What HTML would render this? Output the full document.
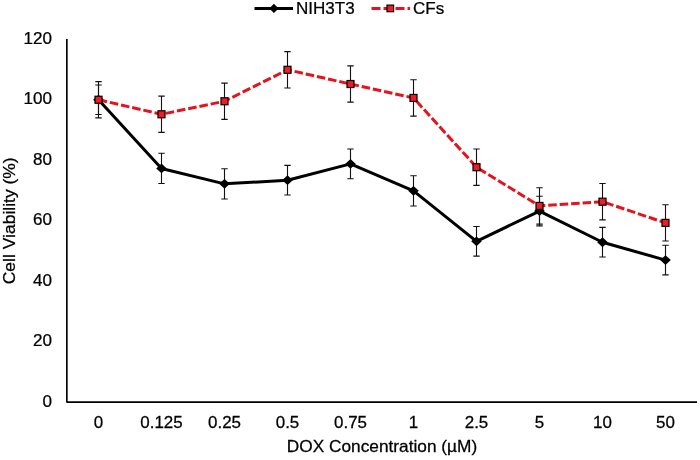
<!DOCTYPE html><html><head><meta charset="utf-8"><style>html,body{margin:0;padding:0;background:#fff;}svg{display:block;}svg{will-change:transform}text{stroke:#000;stroke-width:0.25px}</style></head><body>
<svg width="700" height="460" viewBox="0 0 700 460" font-family="Liberation Sans, sans-serif" fill="#000">
<rect width="700" height="460" fill="#fff"/>
<path d="M66.85 39V402.1H697" fill="none" stroke="#000" stroke-width="1.65" stroke-linejoin="round"/>
<text x="0" y="0" font-size="16.5" text-anchor="end" transform="translate(51.9,406.9) scale(1.035,1)">0</text>
<text x="0" y="0" font-size="16.5" text-anchor="end" transform="translate(51.9,346.4) scale(1.035,1)">20</text>
<text x="0" y="0" font-size="16.5" text-anchor="end" transform="translate(51.9,285.9) scale(1.035,1)">40</text>
<text x="0" y="0" font-size="16.5" text-anchor="end" transform="translate(51.9,225.4) scale(1.035,1)">60</text>
<text x="0" y="0" font-size="16.5" text-anchor="end" transform="translate(51.9,164.9) scale(1.035,1)">80</text>
<text x="0" y="0" font-size="16.5" text-anchor="end" transform="translate(51.9,104.4) scale(1.035,1)">100</text>
<text x="0" y="0" font-size="16.5" text-anchor="end" transform="translate(51.9,43.9) scale(1.035,1)">120</text>
<text x="0" y="0" font-size="16" text-anchor="middle" transform="translate(98.5,427.8) scale(1.06,1)">0</text>
<text x="0" y="0" font-size="16" text-anchor="middle" transform="translate(161.5,427.8) scale(1.06,1)">0.125</text>
<text x="0" y="0" font-size="16" text-anchor="middle" transform="translate(224.5,427.8) scale(1.06,1)">0.25</text>
<text x="0" y="0" font-size="16" text-anchor="middle" transform="translate(287.5,427.8) scale(1.06,1)">0.5</text>
<text x="0" y="0" font-size="16" text-anchor="middle" transform="translate(350.5,427.8) scale(1.06,1)">0.75</text>
<text x="0" y="0" font-size="16" text-anchor="middle" transform="translate(413.5,427.8) scale(1.06,1)">1</text>
<text x="0" y="0" font-size="16" text-anchor="middle" transform="translate(476.5,427.8) scale(1.06,1)">2.5</text>
<text x="0" y="0" font-size="16" text-anchor="middle" transform="translate(539.5,427.8) scale(1.06,1)">5</text>
<text x="0" y="0" font-size="16" text-anchor="middle" transform="translate(602.5,427.8) scale(1.06,1)">10</text>
<text x="0" y="0" font-size="16" text-anchor="middle" transform="translate(665.5,427.8) scale(1.06,1)">50</text>
<text x="0" y="0" font-size="16.3" text-anchor="middle" transform="translate(382,451.8) scale(1.06,1)">DOX Concentration (µM)</text>
<text x="0" y="0" font-size="16.5" text-anchor="middle" transform="translate(14.6,220.8) rotate(-90) scale(1.06,1)">Cell Viability (%)</text>
<path d="M98.5 84.93V114.57M95.3 84.93H101.7M95.3 114.57H101.7M161.5 153.29V183.54M158.3 153.29H164.7M158.3 183.54H164.7M224.5 168.72V198.97M221.3 168.72H227.7M221.3 198.97H227.7M287.5 165.39V195.04M284.3 165.39H290.7M284.3 195.04H290.7M350.5 149.06V178.7M347.3 149.06H353.7M347.3 178.7H353.7M413.5 175.68V205.93M410.3 175.68H416.7M410.3 205.93H416.7M476.5 226.5V256.14M473.3 226.5H479.7M473.3 256.14H479.7M539.5 196.25V225.89M536.3 196.25H542.7M536.3 225.89H542.7M602.5 227.41V257.05M599.3 227.41H605.7M599.3 257.05H605.7M665.5 245.25V274.9M662.3 245.25H668.7M662.3 274.9H668.7" stroke="#111" stroke-width="1.1" fill="none"/>
<polyline points="98.5,99.75 161.5,168.42 224.5,183.84 287.5,180.22 350.5,163.88 413.5,190.8 476.5,241.32 539.5,211.07 602.5,242.23 665.5,260.08" fill="none" stroke="#000" stroke-width="3" stroke-linejoin="round"/>
<path d="M98.5 94.85L103.8 99.75L98.5 104.65L93.2 99.75Z" fill="#000"/>
<path d="M161.5 163.52L166.8 168.42L161.5 173.32L156.2 168.42Z" fill="#000"/>
<path d="M224.5 178.94L229.8 183.84L224.5 188.75L219.2 183.84Z" fill="#000"/>
<path d="M287.5 175.31L292.8 180.22L287.5 185.12L282.2 180.22Z" fill="#000"/>
<path d="M350.5 158.98L355.8 163.88L350.5 168.78L345.2 163.88Z" fill="#000"/>
<path d="M413.5 185.9L418.8 190.8L413.5 195.7L408.2 190.8Z" fill="#000"/>
<path d="M476.5 236.42L481.8 241.32L476.5 246.22L471.2 241.32Z" fill="#000"/>
<path d="M539.5 206.17L544.8 211.07L539.5 215.97L534.2 211.07Z" fill="#000"/>
<path d="M602.5 237.33L607.8 242.23L602.5 247.13L597.2 242.23Z" fill="#000"/>
<path d="M665.5 255.18L670.8 260.08L665.5 264.98L660.2 260.08Z" fill="#000"/>
<path d="M98.5 81.6V117.9M95.3 81.6H101.7M95.3 117.9H101.7M161.5 96.12V132.42M158.3 96.12H164.7M158.3 132.42H164.7M224.5 83.11V119.41M221.3 83.11H227.7M221.3 119.41H227.7M287.5 51.65V87.95M284.3 51.65H290.7M284.3 87.95H290.7M350.5 65.87V102.17M347.3 65.87H353.7M347.3 102.17H353.7M413.5 79.79V116.09M410.3 79.79H416.7M410.3 116.09H416.7M476.5 149.06V185.36M473.3 149.06H479.7M473.3 185.36H479.7M539.5 187.78V224.08M536.3 187.78H542.7M536.3 224.08H542.7M602.5 183.54V219.84M599.3 183.54H605.7M599.3 219.84H605.7M665.5 204.72V241.02M662.3 204.72H668.7M662.3 241.02H668.7" stroke="#111" stroke-width="1.1" fill="none"/>
<polyline points="98.5,99.75 161.5,114.27 224.5,101.26 287.5,69.8 350.5,84.02 413.5,97.94 476.5,167.21 539.5,205.93 602.5,201.69 665.5,222.87" fill="none" stroke="#E3141E" stroke-width="3" stroke-dasharray="8.57 2.9" stroke-dashoffset="-0.15"/>
<rect x="95" y="96.25" width="7" height="7" fill="#EE1C26" stroke="#000" stroke-width="1.2"/>
<rect x="158" y="110.77" width="7" height="7" fill="#EE1C26" stroke="#000" stroke-width="1.2"/>
<rect x="221" y="97.76" width="7" height="7" fill="#EE1C26" stroke="#000" stroke-width="1.2"/>
<rect x="284" y="66.3" width="7" height="7" fill="#EE1C26" stroke="#000" stroke-width="1.2"/>
<rect x="347" y="80.52" width="7" height="7" fill="#EE1C26" stroke="#000" stroke-width="1.2"/>
<rect x="410" y="94.44" width="7" height="7" fill="#EE1C26" stroke="#000" stroke-width="1.2"/>
<rect x="473" y="163.71" width="7" height="7" fill="#EE1C26" stroke="#000" stroke-width="1.2"/>
<rect x="536" y="202.43" width="7" height="7" fill="#EE1C26" stroke="#000" stroke-width="1.2"/>
<rect x="599" y="198.19" width="7" height="7" fill="#EE1C26" stroke="#000" stroke-width="1.2"/>
<rect x="662" y="219.37" width="7" height="7" fill="#EE1C26" stroke="#000" stroke-width="1.2"/>
<line x1="254.5" y1="8.4" x2="293" y2="8.4" stroke="#000" stroke-width="3"/>
<path d="M273.9 3.8000000000000007L278.59999999999997 8.4L273.9 13.0L269.2 8.4Z" fill="#000"/>
<text x="0" y="0" font-size="16.8" transform="translate(296,13.8) scale(1.015,1)">NIH3T3</text>
<line x1="371.5" y1="8.4" x2="410" y2="8.4" stroke="#E3141E" stroke-width="3" stroke-dasharray="9 3"/>
<rect x="387" y="5.1" width="6.6" height="6.6" fill="#EE1C26" stroke="#000" stroke-width="1.2"/>
<text x="0" y="0" font-size="16.8" transform="translate(413,13.8) scale(1.015,1)">CFs</text>
</svg></body></html>
